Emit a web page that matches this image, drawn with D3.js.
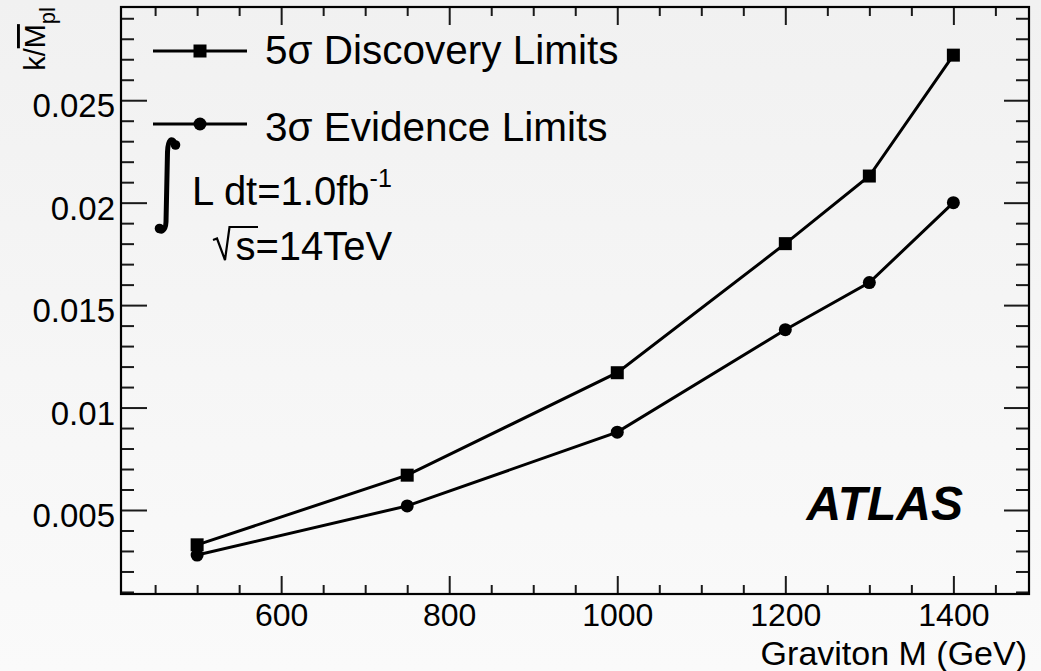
<!DOCTYPE html>
<html>
<head>
<meta charset="utf-8">
<script src="https://cdn.jsdelivr.net/npm/d3@7"></script>
<style>
  html, body { margin: 0; padding: 0; background: #f5f5f5; }
  svg { display: block; }
  text { font-family: "Liberation Sans", Arial, Helvetica, sans-serif; fill: #000; }
</style>
</head>
<body>
<svg id="chart" width="1041" height="671"></svg>
<script>
// ---- data ----
const masses = [500, 750, 1000, 1200, 1300, 1400];
const discovery5 = [0.0033, 0.0067, 0.0117, 0.0180, 0.0213, 0.0272];
const evidence3 = [0.0028, 0.0052, 0.0088, 0.0138, 0.0161, 0.0200];
const xTickValues = [600, 800, 1000, 1200, 1400];
const xTickLabels = ["600", "800", "1000", "1200", "1400"];
const yTickValues = [0.005, 0.01, 0.015, 0.02, 0.025];
const yTickLabels = ["0.005", "0.01", "0.015", "0.02", "0.025"];
const seriesNames = ["5\u03c3 Discovery Limits", "3\u03c3 Evidence Limits"];
const xDomain = [410, 1490];
const yDomain = [0.0009, 0.02955];

// ---- layout ----
const W = 1041, H = 671;
const L = 121, R = 1029, T = 7, B = 594;

const svg = d3.select("#chart");
const defs = svg.append("defs");
const grad = defs.append("linearGradient").attr("id", "bg").attr("x1", 0).attr("y1", 0).attr("x2", 0).attr("y2", 1);
grad.append("stop").attr("offset", "0%").attr("stop-color", "#f1f1f1");
grad.append("stop").attr("offset", "100%").attr("stop-color", "#fafafa");
svg.append("rect").attr("width", W).attr("height", H).attr("fill", "url(#bg)");

const x = d3.scaleLinear().domain(xDomain).range([L + 0.5, R]);
const y = d3.scaleLinear().domain(yDomain).range([B, T]);

const minorX = d3.range(450, 1490, 50).filter(v => v % 200 !== 0);
const minorY = d3.range(1, 30).map(i => i / 1000).filter(v => Math.abs(v * 1000 % 5) > 1e-6);

function styleAxis(g) {
  g.select(".domain").remove();
  g.selectAll(".tick line").attr("stroke", "#1a1a1a").attr("stroke-width", 2);
}

// bottom axis
svg.append("g").attr("transform", `translate(0,${B})`)
  .call(d3.axisBottom(x).tickValues(xTickValues).tickFormat((d, i) => xTickLabels[i]).tickSizeInner(-18).tickSizeOuter(0).tickPadding(10))
  .call(styleAxis)
  .call(g => g.selectAll("text").attr("font-size", 32).attr("dy", "0.69em").style("font-family", "Liberation Sans, Arial, sans-serif").attr("fill", "#000"));
svg.append("g").attr("transform", `translate(0,${B})`)
  .call(d3.axisBottom(x).tickValues(minorX).tickFormat("").tickSizeInner(-9).tickSizeOuter(0))
  .call(styleAxis);
// top axis
svg.append("g").attr("transform", `translate(0,${T})`)
  .call(d3.axisTop(x).tickValues(xTickValues).tickFormat("").tickSizeInner(-18).tickSizeOuter(0))
  .call(styleAxis);
svg.append("g").attr("transform", `translate(0,${T})`)
  .call(d3.axisTop(x).tickValues(minorX).tickFormat("").tickSizeInner(-9).tickSizeOuter(0))
  .call(styleAxis);
// left axis
svg.append("g").attr("transform", `translate(${L},0)`)
  .call(d3.axisLeft(y).tickValues(yTickValues).tickFormat((d, i) => yTickLabels[i]).tickSizeInner(-26).tickSizeOuter(0).tickPadding(6))
  .call(styleAxis)
  .call(g => g.selectAll("text").attr("font-size", 33).attr("dy", "0.5em").style("font-family", "Liberation Sans, Arial, sans-serif").attr("fill", "#000"));
svg.append("g").attr("transform", `translate(${L},0)`)
  .call(d3.axisLeft(y).tickValues(minorY).tickFormat("").tickSizeInner(-13).tickSizeOuter(0))
  .call(styleAxis);
// right axis
svg.append("g").attr("transform", `translate(${R},0)`)
  .call(d3.axisRight(y).tickValues(yTickValues).tickFormat("").tickSizeInner(-25).tickSizeOuter(0))
  .call(styleAxis);
svg.append("g").attr("transform", `translate(${R},0)`)
  .call(d3.axisRight(y).tickValues(minorY).tickFormat("").tickSizeInner(-13).tickSizeOuter(0))
  .call(styleAxis);

// frame
svg.append("rect").attr("x", L).attr("y", T).attr("width", R - L).attr("height", B - T)
  .attr("fill", "none").attr("stroke", "#000").attr("stroke-width", 2.2);

// series
const line = d3.line().x(d => x(d[0])).y(d => y(d[1]));
const s5 = masses.map((m, i) => [m, discovery5[i]]);
const s3 = masses.map((m, i) => [m, evidence3[i]]);
const MS = 13;

svg.append("path").datum(s5).attr("d", line).attr("fill", "none").attr("stroke", "#000").attr("stroke-width", 3);
svg.selectAll(".sq").data(s5).join("rect").attr("class", "sq")
  .attr("x", d => x(d[0]) - MS / 2).attr("y", d => y(d[1]) - MS / 2)
  .attr("width", MS).attr("height", MS).attr("fill", "#000");

svg.append("path").datum(s3).attr("d", line).attr("fill", "none").attr("stroke", "#000").attr("stroke-width", 3);
svg.selectAll(".ci").data(s3).join("circle").attr("class", "ci")
  .attr("cx", d => x(d[0])).attr("cy", d => y(d[1])).attr("r", MS / 2).attr("fill", "#000");

// legend
const leg = svg.append("g");
const legRows = [{y: 51, base: 63.5, name: seriesNames[0], marker: "sq"}, {y: 124, base: 141, name: seriesNames[1], marker: "ci"}];
legRows.forEach(r => {
  leg.append("line").attr("x1", 153).attr("x2", 247).attr("y1", r.y).attr("y2", r.y).attr("stroke", "#000").attr("stroke-width", 3);
  if (r.marker === "sq") {
    leg.append("rect").attr("x", 200 - MS / 2).attr("y", r.y - MS / 2).attr("width", MS).attr("height", MS).attr("fill", "#000");
  } else {
    leg.append("circle").attr("cx", 200).attr("cy", r.y).attr("r", MS / 2).attr("fill", "#000");
  }
  leg.append("text").attr("x", 265).attr("y", r.base).attr("font-size", 40.5).text(r.name);
});

// integral sign (ROOT draws it as a line figure)
svg.append("path").attr("d", "M175,143 C172,137 168,139 167.5,152 L166,222 C165.5,232 160,233 159,229")
  .attr("fill", "none").attr("stroke", "#000").attr("stroke-width", 5);
svg.append("circle").attr("cx", 175.5).attr("cy", 145).attr("r", 4.8).attr("fill", "#000");
svg.append("circle").attr("cx", 159.5).attr("cy", 228.5).attr("r", 4.8).attr("fill", "#000");

const lumi = svg.append("text").attr("x", 192).attr("y", 205).attr("font-size", 40);
lumi.append("tspan").text("L dt=1.0fb");
lumi.append("tspan").attr("font-size", 25).attr("dy", -18.5).text("-1");

// sqrt sign
svg.append("path").attr("d", "M213,240 L217,238.5 L225,260 L229.5,227 L258,227")
  .attr("fill", "none").attr("stroke", "#000").attr("stroke-width", 2.2);
svg.append("text").attr("x", 235.5).attr("y", 260).attr("font-size", 40).text("s=14TeV");

// ATLAS
svg.append("text").attr("x", 963).attr("y", 520).attr("text-anchor", "end")
  .attr("font-size", 48).attr("font-weight", "bold").attr("font-style", "italic").text("ATLAS");

// axis titles
svg.append("text").attr("x", 1027).attr("y", 665).attr("text-anchor", "end").attr("font-size", 34).text("Graviton M (GeV)");

const yt = svg.append("text").attr("transform", "translate(45,7) rotate(-90)").attr("text-anchor", "end").attr("font-size", 29);
yt.append("tspan").text("k/");
yt.append("tspan").style("text-decoration", "overline").text("M");
yt.append("tspan").attr("font-size", 22).attr("dy", 10).text("pl");
</script>
</body>
</html>
